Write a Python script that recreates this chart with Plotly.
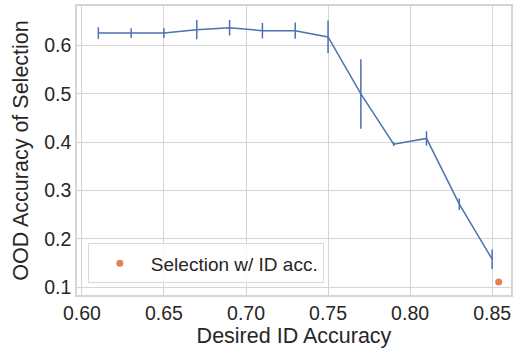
import plotly.graph_objects as go

desired_acc = [0.61, 0.63, 0.65, 0.67, 0.69, 0.71, 0.73, 0.75, 0.77, 0.79, 0.81, 0.83, 0.85]
ood_acc = [0.626, 0.626, 0.626, 0.633, 0.637, 0.631, 0.631, 0.618, 0.500, 0.396, 0.408, 0.272, 0.158]
ood_err = [0.012, 0.010, 0.010, 0.020, 0.016, 0.016, 0.017, 0.034, 0.072, 0.004, 0.015, 0.012, 0.020]

sel_x = [0.854]
sel_y = [0.111]

blue = "#4c72b0"
orange = "#dd8452"
grid = "#d5d5d5"
font = "Liberation Sans, Arial, sans-serif"

fig = go.Figure()
fig.add_trace(go.Scatter(
    x=desired_acc, y=ood_acc, mode="lines",
    line=dict(color=blue, width=1.5),
    error_y=dict(type="data", array=ood_err, color=blue, thickness=1.5, width=0),
    showlegend=False,
))
fig.add_trace(go.Scatter(
    x=sel_x, y=sel_y, mode="markers",
    marker=dict(color=orange, size=7),
    name="Selection w/ ID acc.",
))

fig.update_layout(
    width=515, height=354,
    margin=dict(l=77, r=2, t=6, b=59),
    paper_bgcolor="white", plot_bgcolor="white",
    font=dict(family=font, size=19.5, color="#262626"),
    legend=dict(
        x=0.025, y=0.04, xanchor="left", yanchor="bottom",
        bordercolor="#d9d9d9", borderwidth=1, bgcolor="rgba(255,255,255,0.8)",
        font=dict(size=19), itemwidth=52,
    ),
    xaxis=dict(
        range=[0.597, 0.8615], tickvals=[0.60, 0.65, 0.70, 0.75, 0.80, 0.85],
        tickformat=".2f", showgrid=True, gridcolor=grid, gridwidth=1,
        showline=True, linecolor=grid, linewidth=1.5, mirror=True,
        zeroline=False, ticks="",
        title=dict(text="Desired ID Accuracy", font=dict(size=21.5), standoff=4),
    ),
    yaxis=dict(
        range=[0.084, 0.682], tickvals=[0.1, 0.2, 0.3, 0.4, 0.5, 0.6],
        tickformat=".1f", showgrid=True, gridcolor=grid, gridwidth=1,
        showline=True, linecolor=grid, linewidth=1.5, mirror=True,
        zeroline=False, ticks="",
        title=dict(text="OOD Accuracy of Selection", font=dict(size=21.5), standoff=10),
    ),
)

fig.write_html("out.html")
